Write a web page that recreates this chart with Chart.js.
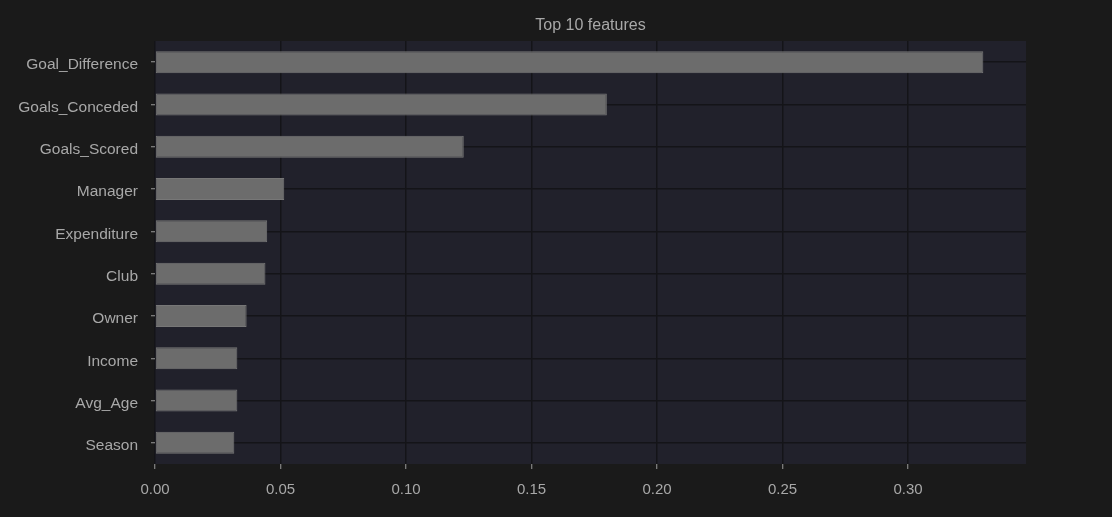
<!DOCTYPE html>
<html>
<head>
<meta charset="utf-8">
<script src="https://cdn.jsdelivr.net/npm/chart.js@4.4.0/dist/chart.umd.min.js"></script>
<style>
  html, body { margin: 0; padding: 0; background: #1a1a1a; }
  #wrap { width: 1112px; height: 517px; }
</style>
</head>
<body>
<div id="wrap"><canvas id="chart"></canvas></div>
<script>
const features = ['Goal_Difference', 'Goals_Conceded', 'Goals_Scored', 'Manager', 'Expenditure',
                  'Club', 'Owner', 'Income', 'Avg_Age', 'Season'];
const importance = [0.330, 0.180, 0.123, 0.0515, 0.0447, 0.0440, 0.0365, 0.0328, 0.0328, 0.0316];
const xTicks = [0, 0.05, 0.10, 0.15, 0.20, 0.25, 0.30];
const xMax = 0.347;
const chartTitle = 'Top 10 features';

const textColor = '#a8a8a8';

// axes face + title centred over the plot area, as matplotlib does
const plotBg = {
    id: 'plotBg',
    beforeDraw(chart) {
        const a = chart.chartArea;
        const ctx = chart.ctx;
        ctx.save();
        ctx.fillStyle = '#21212b';
        ctx.fillRect(a.left, a.top, a.right - a.left, a.bottom - a.top);
        ctx.fillStyle = textColor;
        ctx.font = '16px "Liberation Sans"';
        ctx.textAlign = 'center';
        ctx.textBaseline = 'middle';
        ctx.fillText(chartTitle, (a.left + a.right) / 2, 26);
        ctx.restore();
    }
};

new Chart(document.getElementById('chart'), {
    type: 'bar',
    data: {
        labels: features,
        datasets: [{
            data: importance,
            backgroundColor: '#6c6c6c',
            borderColor: '#777777',
            borderWidth: 1,
            borderSkipped: false,
            barPercentage: 0.52,
            categoryPercentage: 1.0
        }]
    },
    options: {
        indexAxis: 'y',
        responsive: true,
        maintainAspectRatio: false,
        animation: false,
        layout: { padding: { left: 0, right: 86, top: 41, bottom: 0 } },
        plugins: {
            legend: { display: false },
            tooltip: { enabled: false },
            title: { display: false }
        },
        scales: {
            x: {
                min: 0,
                max: xMax,
                afterBuildTicks(axis) {
                    axis.ticks = xTicks.map(v => ({ value: v }));
                },
                afterFit(axis) { axis.height = 53; },
                border: { display: false },
                grid: {
                    color: '#141418',
                    lineWidth: 1.5,
                    tickColor: '#9a9a9a',
                    tickLength: 5,
                    tickWidth: 1
                },
                ticks: {
                    color: textColor,
                    font: { family: 'Liberation Sans', size: 15 },
                    padding: 12,
                    callback: v => Number(v).toFixed(2)
                }
            },
            y: {
                afterFit(axis) { axis.width = 155; },
                border: { display: false },
                grid: {
                    offset: false,
                    color: '#141418',
                    lineWidth: 1.5,
                    tickColor: '#9a9a9a',
                    tickLength: 4,
                    tickWidth: 1
                },
                ticks: {
                    color: textColor,
                    font: { family: 'Liberation Sans', size: 15.5 },
                    padding: 13,
                    labelOffset: 3
                }
            }
        }
    },
    plugins: [plotBg]
});
</script>
</body>
</html>
